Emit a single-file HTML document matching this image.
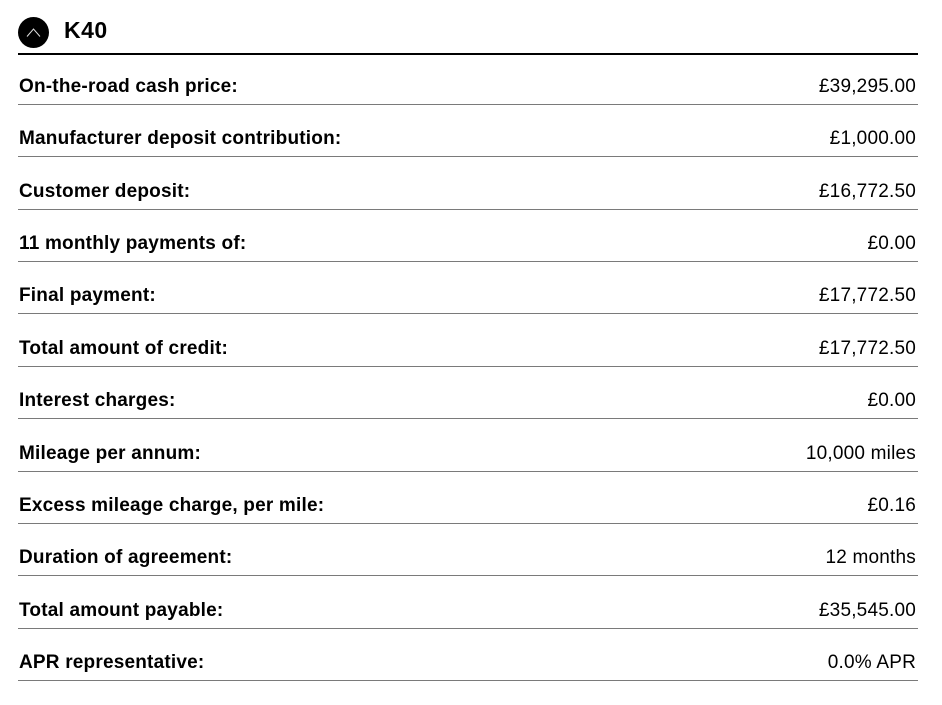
<!DOCTYPE html>
<html>
<head>
<meta charset="utf-8">
<style>
  html, body { margin:0; padding:0; background:#fff; }
  body { width:942px; height:705px; position:relative; overflow:hidden;
         font-family:"Liberation Sans", sans-serif; color:#000; }
  .circle { position:absolute; left:18px; top:17px; width:31px; height:31px; border-radius:50%; background:#000; }
  .title { position:absolute; left:64px; top:19px; font-size:23px; line-height:23px; font-weight:bold; letter-spacing:0.5px; }
  .hline { position:absolute; left:18px; width:900px; top:53px; height:2px; background:#000; }
  .line { position:absolute; left:18px; width:900px; height:1px; background:#7a7a7a; }
  .lab { position:absolute; left:19px; font-size:19px; line-height:19px; font-weight:bold; white-space:nowrap; letter-spacing:0.2px; }
  .val { position:absolute; right:26px; font-size:19px; line-height:19px; white-space:nowrap; text-align:right; letter-spacing:0.2px; }
</style>
</head>
<body>
<div class="circle">
  <svg width="31" height="31" viewBox="0 0 31 31" style="position:absolute;left:0;top:0">
    <polyline points="9,19.5 15.5,12 22,19.5" fill="none" stroke="#ddd" stroke-width="1"/>
  </svg>
</div>
<div class="title">K40</div>
<div class="hline"></div>

<div class="lab" style="top:77px">On-the-road cash price:</div>
<div class="val" style="top:77px">£39,295.00</div>
<div class="line" style="top:104px"></div>

<div class="lab" style="top:129px">Manufacturer deposit contribution:</div>
<div class="val" style="top:129px">£1,000.00</div>
<div class="line" style="top:156px"></div>

<div class="lab" style="top:182px">Customer deposit:</div>
<div class="val" style="top:182px">£16,772.50</div>
<div class="line" style="top:209px"></div>

<div class="lab" style="top:234px">11 monthly payments of:</div>
<div class="val" style="top:234px">£0.00</div>
<div class="line" style="top:261px"></div>

<div class="lab" style="top:286px">Final payment:</div>
<div class="val" style="top:286px">£17,772.50</div>
<div class="line" style="top:313px"></div>

<div class="lab" style="top:339px">Total amount of credit:</div>
<div class="val" style="top:339px">£17,772.50</div>
<div class="line" style="top:366px"></div>

<div class="lab" style="top:391px">Interest charges:</div>
<div class="val" style="top:391px">£0.00</div>
<div class="line" style="top:418px"></div>

<div class="lab" style="top:444px">Mileage per annum:</div>
<div class="val" style="top:444px">10,000 miles</div>
<div class="line" style="top:471px"></div>

<div class="lab" style="top:496px">Excess mileage charge, per mile:</div>
<div class="val" style="top:496px">£0.16</div>
<div class="line" style="top:523px"></div>

<div class="lab" style="top:548px">Duration of agreement:</div>
<div class="val" style="top:548px">12 months</div>
<div class="line" style="top:575px"></div>

<div class="lab" style="top:601px">Total amount payable:</div>
<div class="val" style="top:601px">£35,545.00</div>
<div class="line" style="top:628px"></div>

<div class="lab" style="top:653px">APR representative:</div>
<div class="val" style="top:653px">0.0% APR</div>
<div class="line" style="top:680px"></div>
</body>
</html>
